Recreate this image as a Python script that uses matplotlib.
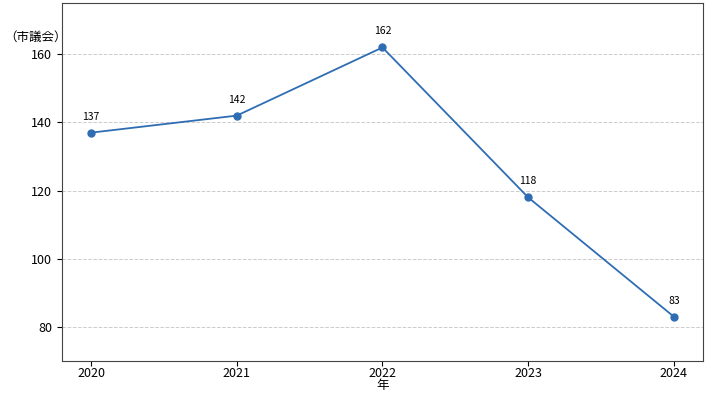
import matplotlib
matplotlib.use("Agg")
import matplotlib.pyplot as plt

years = [2020, 2021, 2022, 2023, 2024]
counts = [137, 142, 162, 118, 83]
year_labels = ["2020", "2021", "2022", "2023", "2024"]

plt.rcParams['font.family'] = ['Noto Sans CJK JP', 'DejaVu Sans']

fig = plt.figure(figsize=(7.09, 3.94), dpi=100)
ax = fig.add_axes([0.0874, 0.0838, 0.9041, 0.9082])

color = '#2f6db3'
ax.plot(years, counts, color=color, marker='o', markersize=5, linewidth=1.3)
for x, y in zip(years, counts):
    ax.annotate(str(y), (x, y), xytext=(0, 8), textcoords='offset points',
                ha='center', va='bottom', fontsize=7.5)

ax.set_xticks(years)
ax.set_xticklabels(year_labels)
ax.set_ylim(min(counts) - 13, max(counts) + 13)
ax.set_yticks([80, 100, 120, 140, 160])
ax.tick_params(labelsize=9)
ax.tick_params(axis='x', pad=1)
ax.set_xlabel('年', fontsize=9, labelpad=-1)
ax.grid(axis='y', linestyle='--', color='#cccccc', linewidth=0.7)
ax.set_axisbelow(True)
for s in ax.spines.values():
    s.set_color('#444444')
fig.text(0.006, 0.905, '（市議会）', fontsize=9, ha='left', va='center')

fig.savefig('out.png', dpi=100)
